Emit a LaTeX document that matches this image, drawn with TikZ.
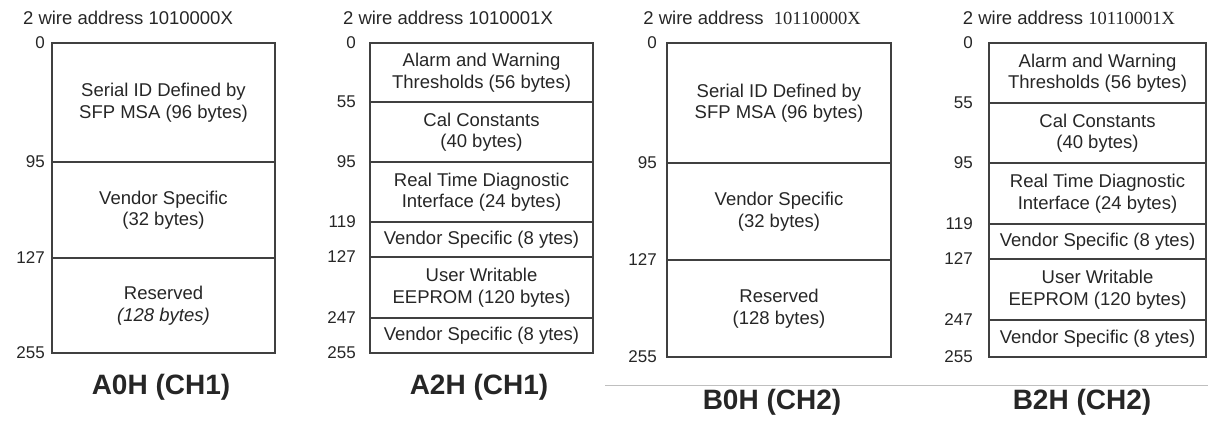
\documentclass[tikz,border=0pt]{standalone}
\usepackage{fontspec}
\setmainfont{Liberation Sans}
\newfontfamily\timesnum{Liberation Serif}
\usetikzlibrary{positioning}

\begin{document}
\begin{tikzpicture}[x=1pt, y=-1pt,
  every node/.style={text=black!85},
  cell/.style={draw=black!75, line width=1.6pt, inner sep=0pt, outer sep=0pt,
    align=center, font=\fontsize{18.5}{21.5}\selectfont},
  addr/.style={font=\fontsize{17}{20}\selectfont, inner sep=0pt},
  head/.style={font=\fontsize{18.5}{20}\selectfont, inner sep=0pt},
  title/.style={font=\fontsize{28}{30}\selectfont\bfseries, inner sep=0pt}]
\useasboundingbox (0,0) rectangle (1208,424);

% A0H
\node[head] (a0head) at (128,18) {2 wire address 1010000X};
\node[cell, anchor=north west, minimum width=223pt, minimum height=119pt] (a0id) at (52,43)
  {Serial ID Defined by\\SFP MSA (96 bytes)};
\node[cell, below=0pt of a0id, minimum width=223pt, minimum height=96pt] (a0vs)
  {Vendor Specific\\(32 bytes)};
\node[cell, below=0pt of a0vs, minimum width=223pt, minimum height=95pt] (a0rs)
  {Reserved\\\textit{(128 bytes)}};
\foreach \c/\n in {a0id/0, a0vs/95, a0rs/127}
  \node[addr, left=7pt of \c.north west] (lbl-\c) {\n};
\node[addr, left=7pt of a0rs.south west] (lbl-a0end) {255};
\node[title] (a0title) at (161,387) {A0H (CH1)};

% A2H
\node[head] (a2head) at (448,18) {2 wire address 1010001X};
\node[cell, anchor=north west, minimum width=223pt, minimum height=59pt] (a2al) at (370,43)
  {Alarm and Warning\\Thresholds (56 bytes)};
\node[cell, below=0pt of a2al, minimum width=223pt, minimum height=60pt] (a2cal)
  {Cal Constants\\(40 bytes)};
\node[cell, below=0pt of a2cal, minimum width=223pt, minimum height=60pt] (a2rt)
  {Real Time Diagnostic\\Interface (24 bytes)};
\node[cell, below=0pt of a2rt, minimum width=223pt, minimum height=35pt] (a2vs)
  {Vendor Specific (8 ytes)};
\node[cell, below=0pt of a2vs, minimum width=223pt, minimum height=61pt] (a2ee)
  {User Writable\\EEPROM (120 bytes)};
\node[cell, below=0pt of a2ee, minimum width=223pt, minimum height=35pt] (a2vt)
  {Vendor Specific (8 ytes)};
\foreach \c/\n in {a2al/0, a2cal/55, a2rt/95, a2vs/119, a2ee/127, a2vt/247}
  \node[addr, left=14pt of \c.north west] (lbl-\c) {\n};
\node[addr, left=14pt of a2vt.south west] (lbl-a2end) {255};
\node[title] (a2title) at (479,387) {A2H (CH1)};

% B0H
\node[head] (b0head) at (752,18) {2 wire address\ \ {\timesnum 10110000X}};
\node[cell, anchor=north west, minimum width=224pt, minimum height=120pt] (b0id) at (667,43)
  {Serial ID Defined by\\SFP MSA (96 bytes)};
\node[cell, below=0pt of b0id, minimum width=224pt, minimum height=97pt] (b0vs)
  {Vendor Specific\\(32 bytes)};
\node[cell, below=0pt of b0vs, minimum width=224pt, minimum height=97pt] (b0rs)
  {Reserved\\(128 bytes)};
\foreach \c/\n in {b0id/0, b0vs/95, b0rs/127}
  \node[addr, left=10pt of \c.north west] (lbl-\c) {\n};
\node[addr, left=10pt of b0rs.south west] (lbl-b0end) {255};
\draw[black!25, line width=1pt] (605,385) -- (1208,385);
\node[title] (b0title) at (772,402) {B0H (CH2)};

% B2H
\node[head] (b2head) at (1069,18) {2 wire address {\timesnum 10110001X}};
\node[cell, anchor=north west, minimum width=217pt, minimum height=60pt] (b2al) at (989,43)
  {Alarm and Warning\\Thresholds (56 bytes)};
\node[cell, below=0pt of b2al, minimum width=217pt, minimum height=60pt] (b2cal)
  {Cal Constants\\(40 bytes)};
\node[cell, below=0pt of b2cal, minimum width=217pt, minimum height=61pt] (b2rt)
  {Real Time Diagnostic\\Interface (24 bytes)};
\node[cell, below=0pt of b2rt, minimum width=217pt, minimum height=35pt] (b2vs)
  {Vendor Specific (8 ytes)};
\node[cell, below=0pt of b2vs, minimum width=217pt, minimum height=61pt] (b2ee)
  {User Writable\\EEPROM (120 bytes)};
\node[cell, below=0pt of b2ee, minimum width=217pt, minimum height=37pt] (b2vt)
  {Vendor Specific (8 ytes)};
\foreach \c/\n in {b2al/0, b2cal/55, b2rt/95, b2vs/119, b2ee/127, b2vt/247}
  \node[addr, left=16pt of \c.north west] (lbl-\c) {\n};
\node[addr, left=16pt of b2vt.south west] (lbl-b2end) {255};
\node[title] (b2title) at (1082,402) {B2H (CH2)};
\end{tikzpicture}
\end{document}
